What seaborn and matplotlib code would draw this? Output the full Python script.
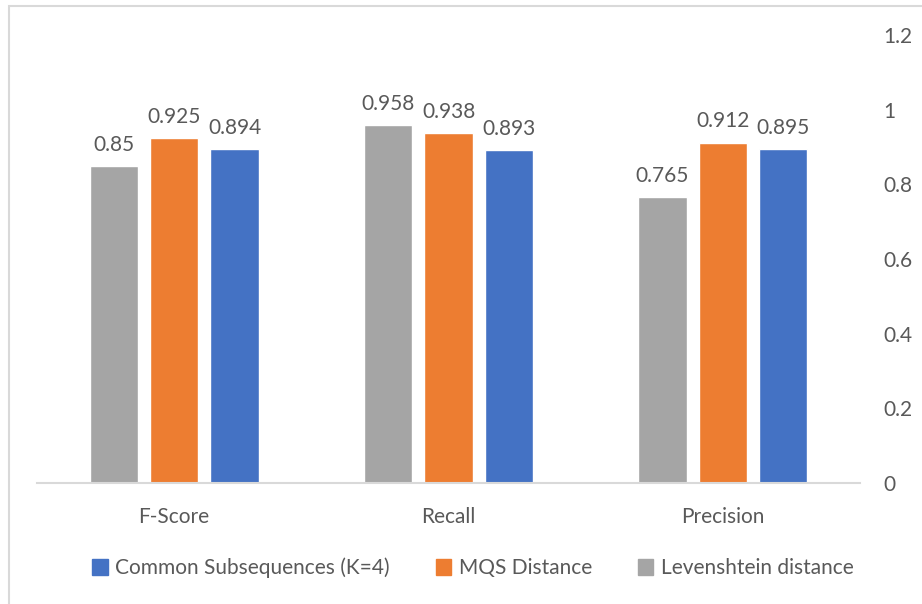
import matplotlib
matplotlib.use("Agg")
import matplotlib.pyplot as plt
import matplotlib.patches as mpatches
import seaborn as sns
import pandas as pd

# Data
metrics = ["F-Score", "Recall", "Precision"]
levenshtein = [0.85, 0.958, 0.765]
mqs = [0.925, 0.938, 0.912]
common_subseq = [0.894, 0.893, 0.895]

series_names = ["Levenshtein distance", "MQS Distance", "Common Subsequences (K=4)"]
legend_order = ["Common Subsequences (K=4)", "MQS Distance", "Levenshtein distance"]
colors = {"Levenshtein distance": "#A5A5A5",
          "MQS Distance": "#ED7D31",
          "Common Subsequences (K=4)": "#4472C4"}
y_ticks = [0, 0.2, 0.4, 0.6, 0.8, 1.0, 1.2]

rows = []
for name, vals in zip(series_names, [levenshtein, mqs, common_subseq]):
    for m, v in zip(metrics, vals):
        rows.append({"Metric": m, "Method": name, "Value": v})
df = pd.DataFrame(rows)

sns.set_theme(style="white")
plt.rcParams["font.family"] = ["Lato", "DejaVu Sans"]
text_color = "#595959"
fs = 15

fig = plt.figure(figsize=(9.22, 6.04), dpi=100)
ax = fig.add_axes([37 / 922, 121 / 604, (860 - 37) / 922, (569 - 121) / 604])

sns.barplot(data=df, x="Metric", y="Value", hue="Method", order=metrics,
            hue_order=series_names, palette=colors, width=0.66, gap=0.2,
            saturation=1, ax=ax, legend=False)

for cont in ax.containers:
    ax.bar_label(cont, fmt="%g", padding=8, fontsize=fs, color=text_color)

ax.set_ylim(0, 1.2)
ax.set_xlim(-0.5, 2.5)
ax.set_yticks(y_ticks)
ax.set_yticklabels([f"{t:g}" for t in y_ticks])
ax.yaxis.tick_right()
ax.tick_params(axis="y", length=0, pad=17, labelsize=fs, labelcolor=text_color)
ax.tick_params(axis="x", length=0, pad=17, labelsize=fs, labelcolor=text_color)
ax.set_xlabel("")
ax.set_ylabel("")
for s in ["top", "left", "right"]:
    ax.spines[s].set_visible(False)
ax.spines["bottom"].set_color("#D9D9D9")
ax.spines["bottom"].set_linewidth(1.5)

# Legend
handles = [mpatches.Patch(color=colors[n], label=n) for n in legend_order]
fig.legend(handles=handles, loc="center", bbox_to_anchor=(473 / 922, 1 - 568 / 604),
           ncol=3, frameon=False, fontsize=fs, handlelength=0.75, handleheight=0.75,
           handletextpad=0.35, columnspacing=2.2, labelcolor=text_color)

# Chart frame
frame = mpatches.Rectangle((9 / 922, -0.1), 1.2, 1 - 6 / 604 + 0.1, transform=fig.transFigure,
                           fill=False, edgecolor="#D9D9D9", linewidth=1.5)
fig.patches.append(frame)

fig.savefig("out.png", dpi=100)
